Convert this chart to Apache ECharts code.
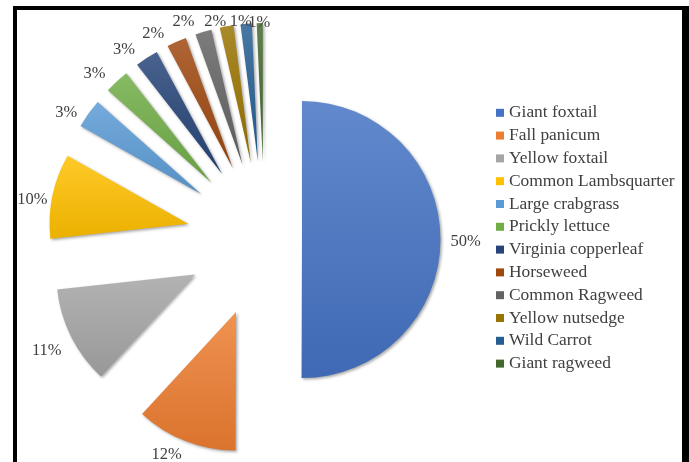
<!DOCTYPE html>
<html>
<head>
<meta charset="utf-8">
<script src="https://cdn.jsdelivr.net/npm/echarts@6/dist/echarts.min.js"></script>
<style>
html,body{margin:0;padding:0;background:#fff;}
#chart{width:689px;height:462px;}
</style>
</head>
<body>
<div id="chart"></div>
<script>
// ---- data ----
var categories = ['Giant foxtail','Fall panicum','Yellow foxtail','Common Lambsquarter','Large crabgrass','Prickly lettuce','Virginia copperleaf','Horseweed','Common Ragweed','Yellow nutsedge','Wild Carrot','Giant ragweed'];
var shares = [50.0, 11.8, 11.4, 9.9, 3.4, 2.9, 2.7, 2.3, 1.9, 1.6, 1.3, 0.7];

// ---- styles ----
var baseColors = ['#4472C4','#ED7D31','#A5A5A5','#FFC000','#5B9BD5','#70AD47','#264478','#9E480E','#636363','#997300','#255E91','#43682B'];
// per-slice label tuning (label line length / distance from line end / vertical drop)
var labelLen  = [10, 10, 13, 5, 10, 15, 14, 13, 14, 8, 5, 3];
var labelDist = [0, 0, -2, 0, 3, 1, 4, 7, 5, -1, -6, -10.5];
var labelDrop = [2, 4, 8, 5, 5, 3, 4, 4, 3, 3, 3, 3];
var FONT = '"Liberation Serif", "DejaVu Serif", serif';

function mix(hex, target, t){
  var n = parseInt(hex.slice(1),16);
  var r=(n>>16)&255, g=(n>>8)&255, b=n&255;
  r = Math.round(r+(target-r)*t); g = Math.round(g+(target-g)*t); b = Math.round(b+(target-b)*t);
  return 'rgb('+r+','+g+','+b+')';
}
function grad(hex){
  return new echarts.graphic.LinearGradient(0,0,0,1,[
    {offset:0,color:mix(hex,255,0.16)},
    {offset:1,color:mix(hex,0,0.08)}
  ]);
}
var shadow = {shadowBlur:3, shadowOffsetX:1.5, shadowOffsetY:1.5, shadowColor:'rgba(0,0,0,0.35)'};
var hidden = {itemStyle:{opacity:0}, label:{show:false}, labelLine:{show:false}};

var total = shares.reduce(function(a,b){return a+b;},0);

function visibleItem(i){
  return {
    name:categories[i], value:shares[i], selected:true,
    itemStyle:Object.assign({color:grad(baseColors[i])},shadow),
    label:{distanceToLabelLine:labelDist[i]},
    labelLine:{show:false, length:labelLen[i], length2:0}
  };
}

// series for the main (less exploded) slice
var dataMain = [
  visibleItem(0),
  Object.assign({name:'_rest', value: total - shares[0]}, hidden)
];
// series for all other slices
var dataRest = categories.map(function(c,i){
  if(i===0){ return Object.assign({name:c, value:shares[i]}, hidden); }
  return visibleItem(i);
});

var rich = {v:{fontFamily:FONT, fontSize:16.5, color:'#404040', lineHeight:19}};
labelDrop.forEach(function(d,i){ rich['s'+i] = {fontSize:1, lineHeight:2*d}; });

var common = {
  type:'pie',
  center:[264.5,239.5],
  radius:138.5,
  startAngle:90,
  clockwise:true,
  selectedMode:'multiple',
  avoidLabelOverlap:false,
  labelLayout:{hideOverlap:false},
  animation:false,
  emphasis:{disabled:true},
  label:{
    show:true, position:'outside', distanceToLabelLine:0,
    fontFamily:FONT, fontSize:16.5, color:'#404040',
    rich:rich,
    formatter:function(p){
      var i = categories.indexOf(p.name);
      return '{s'+i+'| }\n{v|'+Math.round(p.percent)+'%}';
    }
  },
  labelLine:{show:false, length:10, length2:0}
};

var option = {
  backgroundColor:'#ffffff',
  legend:{
    orient:'vertical', left:496, top:101.4, padding:0, itemGap:0,
    itemWidth:8, itemHeight:8, icon:'rect', itemStyle:{shadowBlur:0},
    textStyle:{fontFamily:FONT, fontSize:17.4, color:'#404040', lineHeight:22.8},
    data: categories.map(function(c,i){return {name:c, itemStyle:{color:baseColors[i], opacity:1, shadowBlur:0}};})
  },
  series:[
    Object.assign({}, common, {name:'main', selectedOffset:37.5, data:dataMain}),
    Object.assign({}, common, {name:'rest', selectedOffset:78, data:dataRest})
  ],
  graphic:[
    {type:'rect', shape:{x:13,y:6,width:4,height:460}, style:{fill:'#000'}},
    {type:'rect', shape:{x:13,y:6,width:676,height:4}, style:{fill:'#000'}},
    {type:'rect', shape:{x:682,y:6,width:7,height:460}, style:{fill:'#000'}}
  ]
};

var chart = echarts.init(document.getElementById('chart'), null, {renderer:'canvas'});
chart.setOption(option);
</script>
</body>
</html>
